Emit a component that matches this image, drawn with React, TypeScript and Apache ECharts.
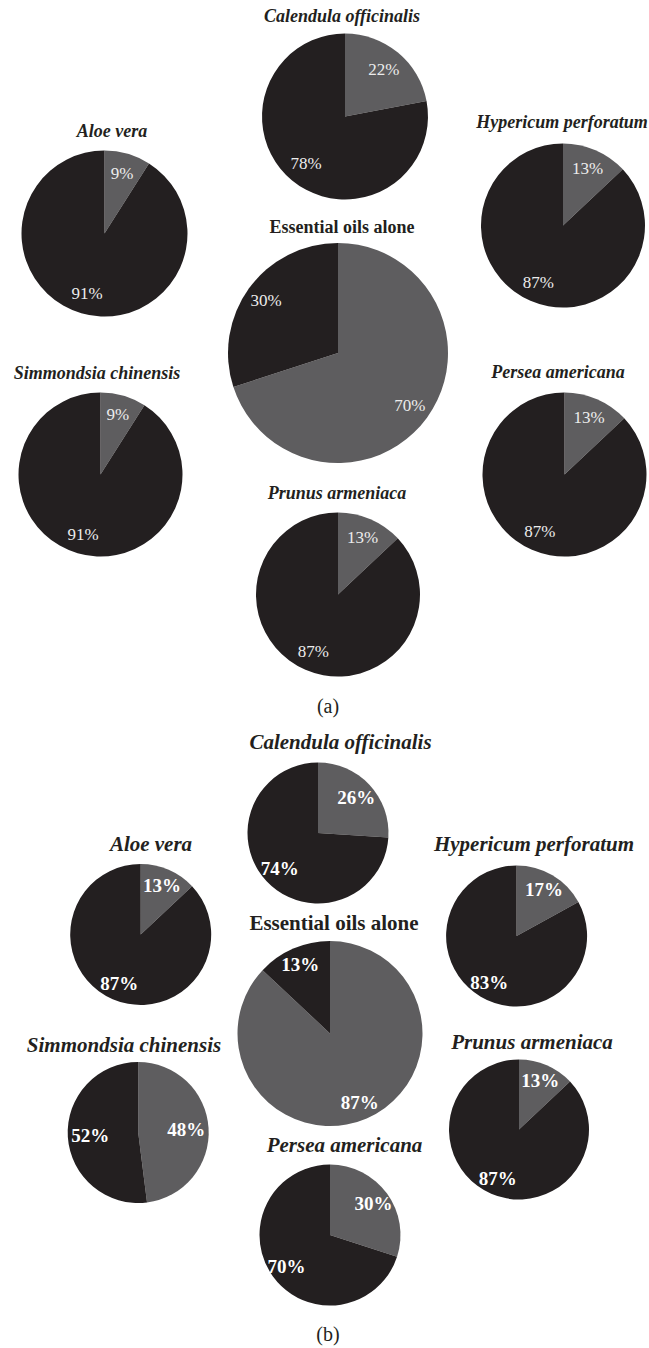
import React, { useEffect, useRef } from "react";
import * as echarts from "echarts";

// Panel (a)
const panelATitles = [
  "Calendula officinalis",
  "Aloe vera",
  "Hypericum perforatum",
  "Essential oils alone",
  "Simmondsia chinensis",
  "Persea americana",
  "Prunus armeniaca",
];
const panelAGrey = [22, 9, 13, 70, 9, 13, 13];
const panelADark = [78, 91, 87, 30, 91, 87, 87];

// Panel (b)
const panelBTitles = [
  "Calendula officinalis",
  "Aloe vera",
  "Hypericum perforatum",
  "Essential oils alone",
  "Simmondsia chinensis",
  "Prunus armeniaca",
  "Persea americana",
];
const panelBGrey = [26, 13, 17, 87, 48, 13, 30];
const panelBDark = [74, 87, 83, 13, 52, 87, 70];

const panelCaptions = ["(a)", "(b)"];
const sliceNames = ["grey share", "dark share"];

// Placement of each pie (centre, radius), its heading and where its labels sit
type Slot = { cx: number; cy: number; r: number; tx: number; ty: number; lr: number };

const layoutA: Slot[] = [
  { cx: 345, cy: 116.5, r: 83, tx: 342, ty: 16, lr: 0.7 },
  { cx: 104.5, cy: 233.5, r: 83, tx: 112, ty: 131, lr: 0.72 },
  { cx: 563, cy: 225.5, r: 82, tx: 562, ty: 122, lr: 0.72 },
  { cx: 338, cy: 353, r: 110, tx: 342, ty: 227, lr: 0.78 },
  { cx: 100.5, cy: 474.5, r: 82, tx: 97, ty: 373, lr: 0.72 },
  { cx: 564.5, cy: 474.5, r: 82, tx: 558, ty: 372, lr: 0.72 },
  { cx: 338, cy: 594.5, r: 82, tx: 337, ty: 493, lr: 0.72 },
];
const layoutB: Slot[] = [
  { cx: 318, cy: 833, r: 70.5, tx: 340.5, ty: 742, lr: 0.7 },
  { cx: 140.7, cy: 934.5, r: 70.5, tx: 151, ty: 844, lr: 0.72 },
  { cx: 516.6, cy: 936, r: 70.5, tx: 534, ty: 844, lr: 0.72 },
  { cx: 330, cy: 1033.5, r: 92.5, tx: 334, ty: 923, lr: 0.78 },
  { cx: 138.2, cy: 1132.5, r: 70.5, tx: 124, ty: 1045, lr: 0.64 },
  { cx: 519, cy: 1129.5, r: 70, tx: 532, ty: 1042, lr: 0.72 },
  { cx: 330, cy: 1235, r: 70.5, tx: 344.5, ty: 1145, lr: 0.72 },
];
const captionPos = [
  { x: 328, y: 706 },
  { x: 328, y: 1334 },
];

const GREY = "#5e5d5f";
const DARK = "#231f20";
const SERIF = '"Liberation Serif", "DejaVu Serif", "Times New Roman", serif';

type PanelStyle = {
  titleSize: number;
  labelSize: number;
  labelWeight: "normal" | "bold";
  labelColor: string;
};

function buildPanel(
  titles: string[],
  grey: number[],
  dark: number[],
  layout: Slot[],
  style: PanelStyle
) {
  const series: any[] = [];
  const texts: any[] = [];
  titles.forEach((title, i) => {
    const slot = layout[i];
    const data = [
      { name: sliceNames[0], value: grey[i], itemStyle: { color: GREY } },
      { name: sliceNames[1], value: dark[i], itemStyle: { color: DARK } },
    ];
    // filled pie
    series.push({
      type: "pie",
      center: [slot.cx, slot.cy],
      radius: [0, slot.r],
      startAngle: 90,
      clockwise: true,
      silent: true,
      avoidLabelOverlap: false,
      label: { show: false },
      labelLine: { show: false },
      itemStyle: { borderWidth: 0 },
      data,
    });
    // transparent ring carrying the percentage labels further out than the pie's midpoint
    series.push({
      type: "pie",
      center: [slot.cx, slot.cy],
      radius: [slot.r * (2 * slot.lr - 1), slot.r],
      startAngle: 90,
      clockwise: true,
      silent: true,
      avoidLabelOverlap: false,
      labelLine: { show: false },
      label: {
        show: true,
        position: "inside",
        formatter: "{c}%",
        color: style.labelColor,
        fontFamily: SERIF,
        fontSize: style.labelSize,
        fontWeight: style.labelWeight,
      },
      itemStyle: { color: "rgba(0,0,0,0)", borderWidth: 0 },
      data: data.map((d) => ({ name: d.name, value: d.value, itemStyle: { color: "rgba(0,0,0,0)" } })),
    });
    const upright = title === "Essential oils alone";
    texts.push({
      type: "text",
      x: slot.tx,
      y: slot.ty,
      silent: true,
      style: {
        text: title,
        fill: DARK,
        fontFamily: SERIF,
        fontSize: style.titleSize,
        fontWeight: "bold",
        fontStyle: upright ? "normal" : "italic",
        align: "center",
        verticalAlign: "middle",
        textAlign: "center",
        textVerticalAlign: "middle",
      },
    });
  });
  return { series, texts };
}

export default function App() {
  const ref = useRef<HTMLDivElement>(null);

  useEffect(() => {
    document.body.style.margin = "0";
    if (!ref.current) return;
    const chart = echarts.init(ref.current, undefined, { renderer: "svg" });

    const a = buildPanel(panelATitles, panelAGrey, panelADark, layoutA, {
      titleSize: 18,
      labelSize: 17,
      labelWeight: "normal",
      labelColor: "#ececec",
    });
    const b = buildPanel(panelBTitles, panelBGrey, panelBDark, layoutB, {
      titleSize: 21,
      labelSize: 19,
      labelWeight: "bold",
      labelColor: "#ffffff",
    });

    const captions = panelCaptions.map((c, i) => ({
      type: "text",
      x: captionPos[i].x,
      y: captionPos[i].y,
      silent: true,
      style: {
        text: c,
        fill: DARK,
        fontFamily: SERIF,
        fontSize: 20,
        align: "center",
        verticalAlign: "middle",
        textAlign: "center",
        textVerticalAlign: "middle",
      },
    }));

    chart.setOption({
      animation: false,
      backgroundColor: "#ffffff",
      series: [...a.series, ...b.series],
      graphic: { elements: [...a.texts, ...b.texts, ...captions] },
    });

    return () => {
      chart.dispose();
    };
  }, []);

  return <div ref={ref} style={{ width: 649, height: 1348 }} />;
}
